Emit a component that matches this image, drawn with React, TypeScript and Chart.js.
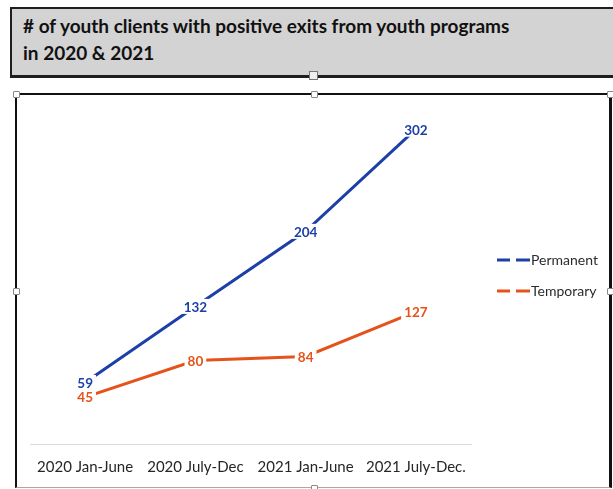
import React, { useEffect, useRef } from "react";
import { Chart, registerables } from "chart.js";

Chart.register(...registerables);

const categories = ["2020 Jan-June", "2020 July-Dec", "2021 Jan-June", "2021 July-Dec."];
const permanentValues = [59, 132, 204, 302];
const temporaryValues = [45, 80, 84, 127];
const seriesNames = ["Permanent", "Temporary"];
const seriesColors = ["#1c3fa8", "#e5531b"];
const titleLines = ["# of youth clients with positive exits from youth programs", "in 2020 & 2021"];

const labelPlugin = {
  id: "pointLabels",
  afterDatasetsDraw(chart: any) {
    const ctx = chart.ctx;
    ctx.save();
    ctx.font = "bold 13.5px Lato";
    ctx.textAlign = "center";
    ctx.textBaseline = "middle";
    chart.data.datasets.forEach((ds: any, i: number) => {
      const meta = chart.getDatasetMeta(i);
      meta.data.forEach((pt: any, j: number) => {
        const txt = String(ds.data[j]);
        const w = ctx.measureText(txt).width + 6;
        const h = 15;
        ctx.fillStyle = "#ffffff";
        ctx.fillRect(pt.x - w / 2, pt.y - h / 2, w, h);
      });
    });
    chart.data.datasets.forEach((ds: any, i: number) => {
      const meta = chart.getDatasetMeta(i);
      meta.data.forEach((pt: any, j: number) => {
        ctx.fillStyle = ds.borderColor;
        ctx.fillText(String(ds.data[j]), pt.x, pt.y + 1);
      });
    });
    ctx.restore();
  },
};

const legendPlugin = {
  id: "sideLegend",
  afterDraw(chart: any) {
    const ctx = chart.ctx;
    const x0 = chart.chartArea.right + 26;
    ctx.save();
    chart.data.datasets.forEach((ds: any, i: number) => {
      const y = 260 + i * 31;
      ctx.strokeStyle = ds.borderColor;
      ctx.lineWidth = 3;
      ctx.beginPath();
      ctx.moveTo(x0, y);
      ctx.lineTo(x0 + 13, y);
      ctx.moveTo(x0 + 19, y);
      ctx.lineTo(x0 + 33, y);
      ctx.stroke();
      ctx.fillStyle = "#2b2b2b";
      ctx.font = "14px Lato";
      ctx.textAlign = "left";
      ctx.textBaseline = "middle";
      ctx.fillText(ds.label, x0 + 34, y);
    });
    ctx.restore();
  },
};

export default function App() {
  const ref = useRef<HTMLCanvasElement>(null);
  useEffect(() => {
    if (!ref.current) return;
    const chart = new Chart(ref.current, {
      type: "line",
      data: {
        labels: categories,
        datasets: [
          {
            label: seriesNames[0],
            data: permanentValues,
            borderColor: seriesColors[0],
            backgroundColor: seriesColors[0],
            borderWidth: 3,
            pointRadius: 0,
            tension: 0,
          },
          {
            label: seriesNames[1],
            data: temporaryValues,
            borderColor: seriesColors[1],
            backgroundColor: seriesColors[1],
            borderWidth: 3,
            pointRadius: 0,
            tension: 0,
          },
        ],
      },
      options: {
        animation: false,
        responsive: false,
        devicePixelRatio: 1,
        layout: { padding: { left: 30, right: 142, top: 100, bottom: -1 } },
        plugins: { legend: { display: false }, tooltip: { enabled: false } },
        scales: {
          x: {
            offset: true,
            grid: { display: false, drawTicks: false },
            border: { display: true, color: "#d9d9d9", width: 1 },
            ticks: { color: "#262626", font: { family: "Lato", size: 15 }, padding: 14, maxRotation: 0, autoSkip: false },
          },
          y: { display: false, min: 0, max: 330 },
        },
      },
      plugins: [labelPlugin, legendPlugin],
    });
    return () => chart.destroy();
  }, []);

  const handle = (x: number, y: number, key: string) => (
    <div
      key={key}
      style={{
        position: "absolute",
        left: x - 3,
        top: y - 3,
        width: 5,
        height: 5,
        background: "#fff",
        border: "1px solid #888",
        borderRadius: 1,
        zIndex: 3,
      }}
    />
  );

  return (
    <div style={{ position: "fixed", left: 0, top: 0, width: 613, height: 489, background: "#fff", overflow: "hidden" }}>
      <div
        style={{
          position: "absolute",
          left: 10,
          top: 7,
          width: 620,
          height: 71,
          boxSizing: "border-box",
          background: "#d3d3d3",
          border: "2px solid #1e1e1e",
          borderBottomWidth: 3,
          fontFamily: "Lato",
          fontWeight: 700,
          fontSize: 19,
          lineHeight: "27px",
          color: "#111",
          padding: "3px 0 0 11px",
        }}
      >
        <div>{titleLines[0]}</div>
        <div>{titleLines[1]}</div>
      </div>
      <div
        style={{
          position: "absolute",
          left: 309,
          top: 71,
          width: 7,
          height: 7,
          background: "#eee",
          border: "1px solid #777",
          zIndex: 3,
        }}
      />
      <div
        style={{
          position: "absolute",
          left: 15,
          top: 93,
          width: 597,
          height: 395,
          boxSizing: "border-box",
          background: "#fff",
          borderLeft: "2px solid #111",
          borderTop: "2px solid #111",
          borderRight: "3px solid #111",
          borderBottom: "1px solid #aaa",
        }}
      />
      <canvas ref={ref} width={613} height={489} style={{ position: "absolute", left: 0, top: 0, zIndex: 2 }} />
      {handle(16, 94, "h1")}
      {handle(314, 94, "h2")}
      {handle(610, 94, "h3")}
      {handle(16, 291, "h4")}
      {handle(610, 291, "h5")}
      {handle(314, 488, "h6")}
    </div>
  );
}
